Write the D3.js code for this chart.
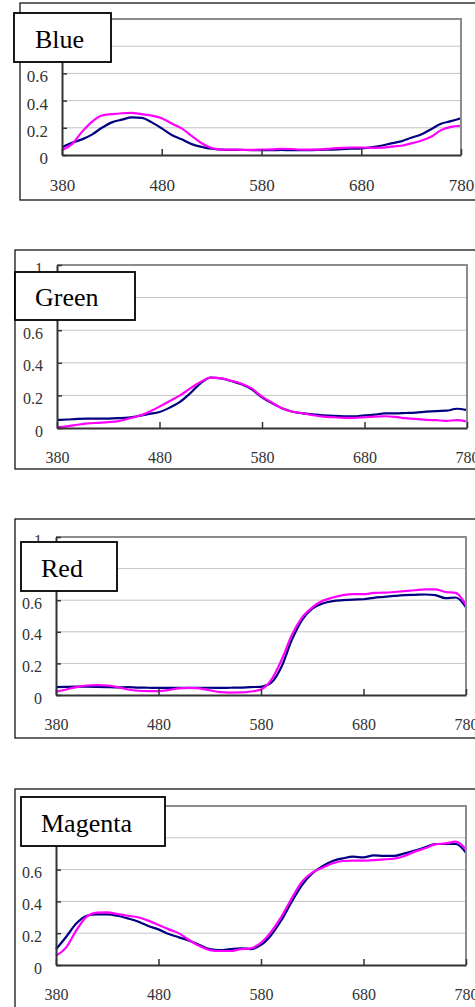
<!DOCTYPE html>
<html>
<head>
<meta charset="utf-8">
<script src="https://cdn.jsdelivr.net/npm/d3@7"></script>
<style>
  body { margin: 0; background: #fff; }
  svg { display: block; }
</style>
</head>
<body>
<div id="chart"></div>
<script>
// wavelengths, 380..780 every 10 nm
let wavelengths = [380, 390, 400, 410, 420, 430, 440, 450, 460, 470, 480, 490, 500, 510, 520, 530, 540, 550, 560, 570,
                   580, 590, 600, 610, 620, 630, 640, 650, 660, 670, 680, 690, 700, 710, 720, 730, 740, 750, 760, 770, 780];

let xTicks = [380, 480, 580, 680, 780];
let yTicks = [0, 0.2, 0.4, 0.6, 0.8, 1];
let titles = ["Blue", "Green", "Red", "Magenta"];

// navy = first curve, pink = second curve
let blueNavy = [0.056, 0.09, 0.115, 0.15, 0.20, 0.24, 0.26, 0.276, 0.273, 0.24, 0.196, 0.147, 0.115, 0.08, 0.06, 0.046, 0.04, 0.038, 0.037, 0.036,
                0.036, 0.036, 0.037, 0.036, 0.036, 0.036, 0.038, 0.04, 0.043, 0.046, 0.049, 0.056, 0.068, 0.086, 0.10, 0.127, 0.15, 0.19, 0.23, 0.249, 0.27];
let bluePink = [0.037, 0.08, 0.17, 0.244, 0.29, 0.30, 0.307, 0.31, 0.30, 0.29, 0.27, 0.232, 0.196, 0.14, 0.086, 0.051, 0.04, 0.04, 0.038, 0.038,
                0.04, 0.042, 0.046, 0.044, 0.04, 0.04, 0.042, 0.048, 0.053, 0.055, 0.055, 0.052, 0.054, 0.061, 0.068, 0.085, 0.105, 0.134, 0.183, 0.207, 0.215];

let greenNavy = [0.049, 0.052, 0.056, 0.058, 0.058, 0.058, 0.06, 0.064, 0.074, 0.086, 0.098, 0.125, 0.16, 0.213, 0.274, 0.309, 0.305, 0.288, 0.268, 0.237,
                 0.188, 0.151, 0.12, 0.1, 0.09, 0.084, 0.078, 0.074, 0.072, 0.072, 0.078, 0.082, 0.09, 0.09, 0.092, 0.094, 0.1, 0.104, 0.106, 0.118, 0.11];
let greenPink = [0.005, 0.01, 0.02, 0.028, 0.032, 0.036, 0.042, 0.058, 0.074, 0.10, 0.131, 0.166, 0.20, 0.243, 0.282, 0.309, 0.305, 0.29, 0.272, 0.243,
                 0.192, 0.155, 0.12, 0.1, 0.09, 0.078, 0.07, 0.066, 0.062, 0.062, 0.066, 0.07, 0.072, 0.068, 0.06, 0.056, 0.05, 0.048, 0.044, 0.048, 0.04];

let redNavy = [0.05, 0.052, 0.053, 0.053, 0.052, 0.05, 0.048, 0.05, 0.047, 0.046, 0.045, 0.045, 0.046, 0.046, 0.046, 0.046, 0.045, 0.046, 0.047, 0.05,
               0.052, 0.078, 0.179, 0.347, 0.474, 0.547, 0.579, 0.594, 0.6, 0.604, 0.606, 0.615, 0.621, 0.627, 0.632, 0.634, 0.636, 0.632, 0.613, 0.617, 0.554];
let redPink = [0.021, 0.035, 0.05, 0.06, 0.063, 0.06, 0.05, 0.035, 0.027, 0.025, 0.025, 0.032, 0.042, 0.045, 0.042, 0.03, 0.018, 0.015, 0.016, 0.022,
               0.035, 0.095, 0.221, 0.379, 0.49, 0.554, 0.596, 0.617, 0.632, 0.638, 0.638, 0.646, 0.648, 0.652, 0.657, 0.663, 0.669, 0.669, 0.652, 0.646, 0.569];

let magentaNavy = [0.099, 0.178, 0.262, 0.31, 0.319, 0.319, 0.31, 0.293, 0.273, 0.245, 0.224, 0.195, 0.174, 0.153, 0.126, 0.1, 0.094, 0.1, 0.105, 0.1,
                   0.126, 0.189, 0.283, 0.398, 0.503, 0.576, 0.622, 0.654, 0.671, 0.681, 0.677, 0.69, 0.686, 0.686, 0.702, 0.719, 0.74, 0.761, 0.761, 0.761, 0.706];
let magentaPink = [0.057, 0.111, 0.22, 0.304, 0.329, 0.331, 0.321, 0.31, 0.3, 0.279, 0.252, 0.224, 0.199, 0.157, 0.119, 0.094, 0.088, 0.088, 0.099, 0.105,
                   0.14, 0.21, 0.304, 0.42, 0.524, 0.581, 0.612, 0.64, 0.654, 0.656, 0.656, 0.66, 0.664, 0.669, 0.686, 0.713, 0.734, 0.759, 0.765, 0.776, 0.727];

let navySeries = [blueNavy, greenNavy, redNavy, magentaNavy];
let pinkSeries = [bluePink, greenPink, redPink, magentaPink];

// page layout for each of the four panels
let panels = [
    {frame: [20, 3, 197],  plot: {l: 62, r: 461, t: 19, b: 155}, box: [14, 13, 97, 49],  tx: 35, ty: 48,  fs: 17},
    {frame: [15, 250, 219], plot: {l: 57, r: 467, t: 265, b: 428}, box: [15, 272, 120, 48], tx: 35, ty: 306, fs: 16},
    {frame: [15, 519, 219], plot: {l: 56, r: 466, t: 537, b: 695}, box: [21, 542, 96, 49],  tx: 41, ty: 577, fs: 16},
    {frame: [15, 789, 260], plot: {l: 56, r: 466, t: 806, b: 965}, box: [21, 797, 144, 49], tx: 41, ty: 832, fs: 16}
];

function main() {
    let svg = d3.select("#chart")
        .append("svg")
        .attr("width", 475)
        .attr("height", 1007);

    panels.forEach(function (p, i) {
        drawPanel(svg, p, titles[i], navySeries[i], pinkSeries[i]);
    });
}

function drawPanel(svg, p, title, navy, pink) {
    let g = svg.append("g");

    // outer frame
    g.append("rect")
        .attr("x", p.frame[0]).attr("y", p.frame[1])
        .attr("width", 500).attr("height", p.frame[2])
        .attr("fill", "#fff")
        .attr("stroke", "#000")
        .attr("stroke-width", 1.2);

    let x = d3.scaleLinear().domain([380, 780]).range([p.plot.l, p.plot.r]);
    let y = d3.scaleLinear().domain([0, 1]).range([p.plot.b, p.plot.t]);

    // gridlines
    g.selectAll(".grid")
        .data([0.2, 0.4, 0.6, 0.8])
        .enter()
        .append("line")
        .attr("x1", p.plot.l).attr("x2", p.plot.r)
        .attr("y1", function (d) { return y(d); })
        .attr("y2", function (d) { return y(d); })
        .attr("stroke", "#c4c4c4")
        .attr("stroke-width", 1);

    let line = d3.line()
        .x(function (d, i) { return x(wavelengths[i]); })
        .y(function (d) { return y(d); })
        .curve(d3.curveMonotoneX);

    g.append("path")
        .datum(navy)
        .attr("fill", "none")
        .attr("stroke", "#000080")
        .attr("stroke-width", 2.2)
        .attr("d", line);

    g.append("path")
        .datum(pink)
        .attr("fill", "none")
        .attr("stroke", "#ff00ff")
        .attr("stroke-width", 2.2)
        .attr("d", line);

    // top and right border of plot area
    g.append("path")
        .attr("d", "M" + p.plot.l + "," + y(1) + "H" + p.plot.r + "V" + y(0))
        .attr("fill", "none")
        .attr("stroke", "#8c8c8c")
        .attr("stroke-width", 2);

    let xAxis = g.append("g")
        .attr("transform", "translate(0," + y(0) + ")")
        .call(d3.axisBottom(x).tickValues(xTicks).tickSize(-6).tickPadding(24).tickSizeOuter(0));

    let yAxis = g.append("g")
        .attr("transform", "translate(" + p.plot.l + ",0)")
        .call(d3.axisLeft(y).tickValues(yTicks).tickSize(-5).tickPadding(14).tickSizeOuter(0)
            .tickFormat(function (d) { return String(d); }));

    [xAxis, yAxis].forEach(function (a) {
        a.select(".domain").attr("stroke", "#333").attr("stroke-width", 2);
        a.selectAll(".tick line").attr("stroke", "#333").attr("stroke-width", 1.5);
        a.selectAll(".tick text")
            .attr("fill", "#333")
            .style("font-family", "'Liberation Serif', 'DejaVu Serif', serif")
            .style("font-size", p.fs + "px");
    });
    yAxis.selectAll(".tick text").attr("dy", "0.5em");

    // labels that sit fully under the title box are not drawn
    let boxTop = p.box[1], boxBottom = p.box[1] + p.box[3];
    yAxis.selectAll(".tick text")
        .filter(function (d) { let c = y(d) + 3; return c > boxTop + 2 && c < boxBottom; })
        .remove();

    // title box
    g.append("rect")
        .attr("x", p.box[0]).attr("y", p.box[1])
        .attr("width", p.box[2]).attr("height", p.box[3])
        .attr("fill", "#fff")
        .attr("stroke", "#000")
        .attr("stroke-width", 1.8);

    g.append("text")
        .attr("x", p.tx).attr("y", p.ty)
        .style("font-family", "'Liberation Serif', 'DejaVu Serif', serif")
        .style("font-size", "26px")
        .attr("fill", "#000")
        .text(title);
}

main();
</script>
</body>
</html>
